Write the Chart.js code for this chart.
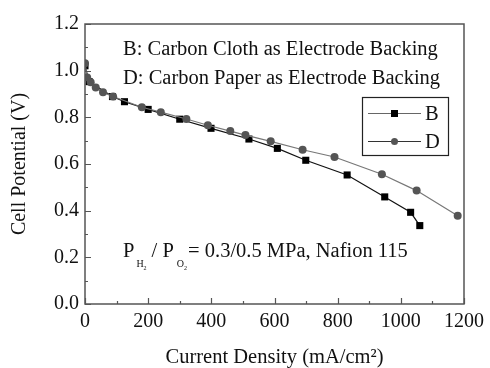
<!DOCTYPE html>
<html>
<head>
<meta charset="utf-8">
<script src="https://cdn.jsdelivr.net/npm/chart.js@4/dist/chart.umd.min.js"></script>
<style>
  html, body { margin: 0; padding: 0; background: #fff; }
  #wrap { width: 490px; height: 368px; }
</style>
</head>
<body>
<div id="wrap"><canvas id="chart"></canvas></div>
<script>
// current density (mA/cm2) and cell potential (V)
const currentB = [0, 13, 87, 125, 200, 300, 399, 519, 609, 699, 830, 949, 1031, 1060];
const potentialB = [1.021, 0.953, 0.889, 0.867, 0.834, 0.792, 0.753, 0.707, 0.667, 0.616, 0.553, 0.459, 0.393, 0.336];
const currentD = [0, 7, 18, 34, 57, 89, 180, 240, 321, 389, 460, 508, 588, 689, 790, 940, 1050, 1180];
const potentialD = [1.032, 0.971, 0.950, 0.928, 0.907, 0.889, 0.843, 0.822, 0.793, 0.766, 0.741, 0.724, 0.697, 0.661, 0.630, 0.556, 0.486, 0.378];

const xTicks = [0, 200, 400, 600, 800, 1000, 1200];
const yTicks = [0.0, 0.2, 0.4, 0.6, 0.8, 1.0, 1.2];

const SERIF = "'Liberation Serif', 'DejaVu Serif', serif";
const AXIS = '#555';

function pts(xs, ys) { return xs.map((x, i) => ({ x: x, y: ys[i] })); }

// box round the plot plus inward tick marks
const frame = {
  id: 'frame',
  afterDraw(chart) {
    const { ctx, chartArea: a, scales } = chart;
    ctx.save();
    ctx.strokeStyle = AXIS;
    ctx.lineWidth = 1.5;
    ctx.strokeRect(a.left, a.top, a.right - a.left, a.bottom - a.top);
    ctx.lineWidth = 1.2;
    ctx.beginPath();
    for (let v = 0; v <= 1200; v += 100) {
      const px = Math.round(scales.x.getPixelForValue(v)) + 0.5;
      const len = v % 200 === 0 ? 6 : 3;
      ctx.moveTo(px, a.bottom); ctx.lineTo(px, a.bottom - len);
    }
    for (let i = 0; i <= 12; i++) {
      const py = Math.round(scales.y.getPixelForValue(i / 10)) + 0.5;
      const len = i % 2 === 0 ? 6 : 3;
      ctx.moveTo(a.left, py); ctx.lineTo(a.left + len, py);
    }
    ctx.stroke();
    ctx.restore();
  }
};

// text notes and the boxed legend
const notes = {
  id: 'notes',
  afterDraw(chart) {
    const { ctx } = chart;
    ctx.save();
    ctx.fillStyle = '#111';
    ctx.textBaseline = 'alphabetic';
    ctx.textAlign = 'left';
    ctx.font = '20.5px ' + SERIF;
    ctx.fillText('B: Carbon Cloth as Electrode Backing', 123, 55);
    ctx.fillText('D: Carbon Paper as Electrode Backing', 123, 84);

    // P_H2 / P_O2 = 0.3/0.5 MPa, Nafion 115
    let x = 123;
    const put = (t, size, base, gap) => {
      ctx.font = size + 'px ' + SERIF;
      ctx.fillText(t, x, base);
      x += ctx.measureText(t).width + (gap || 0);
    };
    put('P', 20.5, 257, 2);
    put('H', 10, 267, 0);
    put('2', 6, 270, 5);
    put('/ P', 20.5, 257, 3);
    put('O', 10, 267, 0);
    put('2', 6, 270, 1);
    put('= 0.3/0.5 MPa, Nafion 115', 20.5, 257, 0);

    // legend
    ctx.strokeStyle = '#222';
    ctx.lineWidth = 1.2;
    ctx.strokeRect(362.5, 97.5, 86, 58);
    ctx.font = '20.5px ' + SERIF;
    ctx.textBaseline = 'middle';
    const rows = [
      { y: 113.5, label: 'B', line: '#666', dot: '#000', sq: true },
      { y: 141.5, label: 'D', line: '#333', dot: '#555', sq: false }
    ];
    rows.forEach(r => {
      ctx.strokeStyle = r.line;
      ctx.lineWidth = 1.2;
      ctx.beginPath(); ctx.moveTo(368, r.y); ctx.lineTo(421, r.y); ctx.stroke();
      ctx.fillStyle = r.dot;
      if (r.sq) ctx.fillRect(391, r.y - 3.5, 7, 7);
      else { ctx.beginPath(); ctx.arc(394.5, r.y, 3.5, 0, Math.PI * 2); ctx.fill(); }
      ctx.fillStyle = '#111';
      ctx.fillText(r.label, 425, r.y + 1);
    });
    ctx.restore();
  }
};

new Chart(document.getElementById('chart'), {
  type: 'scatter',
  data: {
    datasets: [
      {
        label: 'D',
        data: pts(currentD, potentialD),
        showLine: true,
        borderColor: '#777',
        borderWidth: 1.2,
        pointStyle: 'circle',
        pointRadius: 4,
        pointBackgroundColor: '#555',
        pointBorderColor: '#555',
        pointBorderWidth: 0,
        order: 0
      },
      {
        label: 'B',
        data: pts(currentB, potentialB),
        showLine: true,
        borderColor: '#111',
        borderWidth: 1.2,
        pointStyle: 'rect',
        pointRadius: 5,
        pointBackgroundColor: '#000',
        pointBorderColor: '#000',
        pointBorderWidth: 0,
        order: 1
      }
    ]
  },
  options: {
    responsive: true,
    maintainAspectRatio: false,
    animation: false,
    layout: { padding: { top: 24, right: 22, left: 0, bottom: 0 } },
    plugins: { legend: { display: false }, tooltip: { enabled: false } },
    scales: {
      x: {
        type: 'linear',
        min: 0, max: 1200,
        afterFit: s => { s.height = 64; },
        afterBuildTicks: s => { s.ticks = xTicks.map(v => ({ value: v })); },
        grid: { display: false, drawTicks: false },
        border: { display: false },
        ticks: { padding: 6, color: '#111', font: { family: SERIF, size: 20 }, maxRotation: 0, callback: v => String(v) },
        title: {
          display: true,
          text: 'Current Density (mA/cm²)',
          color: '#111',
          font: { family: SERIF, size: 20.5, lineHeight: 1 },
          padding: { top: 0, bottom: 0 }
        }
      },
      y: {
        type: 'linear',
        min: 0, max: 1.2,
        afterFit: s => { s.width = 85; },
        afterBuildTicks: s => { s.ticks = yTicks.map(v => ({ value: v })); },
        grid: { display: false, drawTicks: false },
        border: { display: false },
        ticks: { padding: 6, color: '#111', font: { family: SERIF, size: 20 }, callback: v => v.toFixed(1) },
        title: {
          display: true,
          text: 'Cell Potential (V)',
          color: '#111',
          font: { family: SERIF, size: 20, lineHeight: 1 },
          padding: { top: 10, bottom: 0 }
        }
      }
    }
  },
  plugins: [frame, notes]
});
</script>
</body>
</html>
